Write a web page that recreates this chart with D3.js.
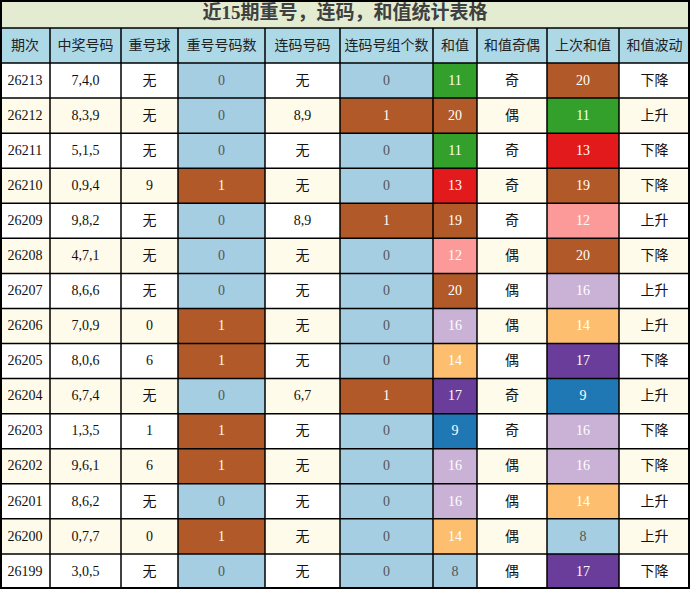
<!DOCTYPE html>
<html><head><meta charset="utf-8">
<script src="https://cdn.jsdelivr.net/npm/d3@7"></script>
<style>body{margin:0;background:#fff}</style>
</head><body><div id="chart"></div>
<script>
const title = "近15期重号，连码，和值统计表格";
const headers = ["期次","中奖号码","重号球","重号号码数","连码号码","连码号组个数","和值","和值奇偶","上次和值","和值波动"];
const periods = ["26213","26212","26211","26210","26209","26208","26207","26206","26205","26204","26203","26202","26201","26200","26199"];
const draws = ["7,4,0","8,3,9","5,1,5","0,9,4","9,8,2","4,7,1","8,6,6","7,0,9","8,0,6","6,7,4","1,3,5","9,6,1","8,6,2","0,7,7","3,0,5"];
const repeatBall = ["无","无","无","9","无","无","无","0","6","无","1","6","无","0","无"];
const repeatCount = [0,0,0,1,0,0,0,1,1,0,1,1,0,1,0];
const consec = ["无","8,9","无","无","8,9","无","无","无","无","6,7","无","无","无","无","无"];
const consecCount = [0,1,0,0,1,0,0,0,0,1,0,0,0,0,0];
const sums = [11,20,11,13,19,12,20,16,14,17,9,16,16,14,8];
const parity = ["奇","偶","奇","奇","奇","偶","偶","偶","偶","奇","奇","偶","偶","偶","偶"];
const prevSums = [20,11,13,19,12,20,16,14,17,9,16,16,14,8,17];
const trend = ["下降","上升","下降","下降","上升","下降","上升","上升","下降","上升","下降","下降","上升","上升","下降"];

const W = 690, H = 589;
const colEdges = [0,50,121,178,265,340,433,477,547,619,690];
const titleH = 28, headH = 35;
const rowH = (H - titleH - headH) / periods.length;
const font = "'Liberation Serif','Noto Sans CJK SC',serif";

const svg = d3.select("#chart").append("svg").attr("width", W).attr("height", H);

const y = d3.scaleBand().domain(periods).range([titleH + headH, H]);
const countColor = d => d ? "#b15928" : "#a6cee3";
const sumColor = v => d3.schemePaired[Math.max(0, Math.min(11, v - 8))];

// title
svg.append("rect").attr("width", W).attr("height", titleH).attr("fill", "#e3ebd1");
svg.append("text").attr("x", W / 2).attr("y", titleH / 2 + 1).attr("text-anchor", "middle")
  .attr("dominant-baseline", "middle").attr("font-family", font).attr("font-weight", "bold")
  .attr("font-size", 19).attr("fill", "#404040").text(title);

// header
headers.forEach((h, i) => {
  svg.append("rect").attr("x", colEdges[i]).attr("y", titleH).attr("width", colEdges[i+1] - colEdges[i])
    .attr("height", headH).attr("fill", "#add8e6");
  svg.append("text").attr("x", (colEdges[i] + colEdges[i+1]) / 2).attr("y", titleH + headH / 2 + 1)
    .attr("text-anchor", "middle").attr("dominant-baseline", "middle").attr("font-family", font)
    .attr("font-size", 14).attr("fill", "#222").text(h);
});

periods.forEach((p, r) => {
  const bg = r % 2 ? "#fffbea" : "#ffffff";
  const cells = [
    [p, bg], [draws[r], bg], [repeatBall[r], bg], [repeatCount[r], countColor(repeatCount[r])],
    [consec[r], bg], [consecCount[r], countColor(consecCount[r])],
    [sums[r], sumColor(sums[r])], [parity[r], bg], [prevSums[r], sumColor(prevSums[r])], [trend[r], bg]
  ];
  cells.forEach(([t, fill], i) => {
    svg.append("rect").attr("x", colEdges[i]).attr("y", y(p)).attr("width", colEdges[i+1] - colEdges[i])
      .attr("height", y.bandwidth()).attr("fill", fill);
    const colored = fill !== bg;
    svg.append("text").attr("x", (colEdges[i] + colEdges[i+1]) / 2).attr("y", y(p) + y.bandwidth() / 2 + 1)
      .attr("text-anchor", "middle").attr("dominant-baseline", "middle").attr("font-family", font)
      .attr("font-size", 14)
      .attr("fill", !colored ? "#111" : (fill === "#a6cee3" ? "#555" : "#fff"))
      .text(t);
  });
});

// grid lines
const g = svg.append("g").attr("stroke", "#000");
colEdges.slice(1, -1).forEach(x => g.append("line").attr("x1", x).attr("x2", x).attr("y1", titleH).attr("y2", H).attr("stroke-width", 1.5));
[titleH, titleH + headH].concat(periods.map(p => y(p) + y.bandwidth())).slice(0, -1)
  .forEach(yy => g.append("line").attr("x1", 0).attr("x2", W).attr("y1", yy).attr("y2", yy).attr("stroke-width", 1.5));
svg.append("rect").attr("x", 1).attr("y", 1).attr("width", W - 2).attr("height", H - 2)
  .attr("fill", "none").attr("stroke", "#000").attr("stroke-width", 2);
</script>
</body></html>
